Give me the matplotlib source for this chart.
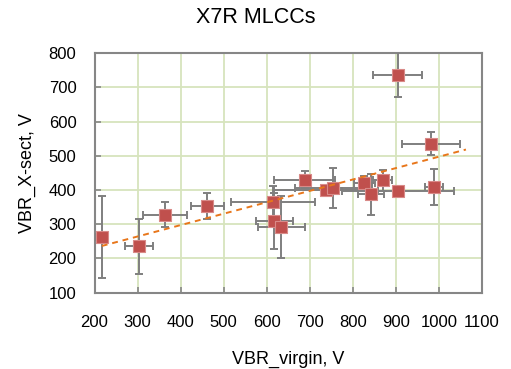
import matplotlib
matplotlib.use("Agg")
import matplotlib.pyplot as plt
import numpy as np

plt.rcParams['font.family'] = ['Liberation Sans', 'DejaVu Sans']

# data
vbr_virgin = [217, 304, 364, 462, 614, 618, 634, 688, 738, 755, 827, 843, 870, 906, 904, 982, 988]
vbr_xsect  = [263, 235, 328, 353, 364, 310, 291, 430, 400, 405, 420, 388, 428, 397, 737, 535, 408]
xerr_vals  = [15, 33, 52, 38, 98, 43, 55, 70, 120, 90, 25, 30, 22, 130, 58, 68, 21]
yerr_vals  = [120, 80, 37, 37, 48, 82, 91, 25, 12, 59, 20, 60, 30, 12, 66, 34, 53]

title = "X7R MLCCs"
xlabel = "VBR_virgin, V"
ylabel = "VBR_X-sect, V"
xticks = [200, 300, 400, 500, 600, 700, 800, 900, 1000, 1100]
yticks = [100, 200, 300, 400, 500, 600, 700, 800]
forecast = 75

fig = plt.figure(figsize=(5.11, 3.69), dpi=100)
ax = fig.add_axes([0.185, 0.207, 0.758, 0.649])

x = np.array(vbr_virgin, float)
y = np.array(vbr_xsect, float)

ax.errorbar(x, y, xerr=xerr_vals, yerr=yerr_vals, fmt='none', ecolor='#7f7f7f',
            elinewidth=1.4, capsize=2.7, capthick=1.4, zorder=3)
ax.scatter(x, y, marker='s', s=75, color='#C0504D', edgecolors='#D98A88',
           linewidths=0.8, zorder=4)

k, b = np.polyfit(x, y, 1)
xt = np.array([x.min(), x.max() + forecast])
ax.plot(xt, k * xt + b, linestyle=(0, (3, 2.5)), color='#E8761A', linewidth=1.4, zorder=5)

ax.set_xlim(200, 1100)
ax.set_ylim(100, 800)
ax.set_xticks(xticks)
ax.set_yticks(yticks)
ax.grid(True, color='#D7E4BD', linewidth=1.3, zorder=0)
ax.set_axisbelow(True)
for s in ax.spines.values():
    s.set_color('#868686')
    s.set_linewidth(1.5)
ax.tick_params(direction='in', length=4, width=1.2, color='#868686',
               labelsize=12)
ax.tick_params(axis='x', pad=16)
ax.tick_params(axis='y', pad=13)

fig.text(0.5, 1 - 17.5 / 369, title, fontsize=15.5, ha='center', va='center')
ax.set_xlabel(xlabel, fontsize=13, labelpad=15)
ax.set_ylabel(ylabel, fontsize=13, labelpad=9)

fig.savefig("out.png", dpi=100)
